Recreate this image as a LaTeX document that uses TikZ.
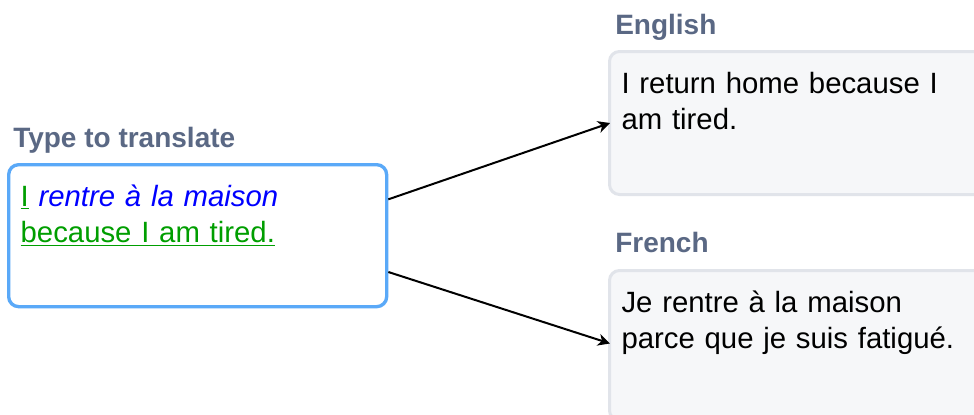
\documentclass[tikz,border=0pt]{standalone}
\usepackage{fontspec}
\setmainfont{Liberation Sans}
\usetikzlibrary{arrows.meta,positioning,calc}
\definecolor{headGray}{HTML}{5A6884}
\definecolor{srcBlue}{HTML}{5AA9F8}
\definecolor{outLine}{HTML}{E1E4EA}
\definecolor{outFill}{HTML}{F6F7F9}
\definecolor{keepGreen}{HTML}{009E00}
\definecolor{newBlue}{HTML}{0000FF}
\tikzset{
    >={Stealth[length=9pt,width=9pt,inset=2.7pt]},
    textBox/.style={
           rectangle,
           rounded corners=7.5pt,
           anchor=north west,
           text width=265.5pt,
           inner xsep=9pt,
           inner ysep=0pt,
           text height=31.5pt,
           align=left,
           font=\fontsize{22}{27}\selectfont},
    srcBox/.style={
           textBox,
           draw=srcBlue, line width=2.5pt,
           fill=white,
           text depth=75pt},
    outBox/.style={
           textBox,
           draw=outLine, line width=2.25pt,
           fill=outFill},
    heading/.style={
           inner sep=0pt,
           text=headGray,
           font=\fontsize{21}{24}\selectfont\bfseries},
    pil/.style={
           ->,
           line width=1.5pt}
}
\begin{document}
\begin{tikzpicture}[x=0.75pt, y=-0.75pt]
	\useasboundingbox (0,0) rectangle (974,414);
	\fill[white] (0,0) rectangle (974,414);
	\clip (0,0) rectangle (974,414);
	\node[srcBox] (Source) at (7,163) {\textcolor{keepGreen}{\underline{I}} \textcolor{newBlue}{\itshape rentre à la maison}\\ \textcolor{keepGreen}{\underline{because I am tired.}}};
	\node[outBox, text depth=75.75pt] (English) at (608,50) {I return home because I am tired.};
	\node[outBox, text depth=81pt, below=54.75pt of English.south west, anchor=north west] (French) {Je rentre à la maison parce que je suis fatigué.};
	\node[heading, above right=12pt and 4.5pt of Source.north west, anchor=base west] (SourceHead) {Type to translate};
	\node[heading, above right=12pt and 5.25pt of English.north west, anchor=base west] (EnglishHead) {English};
	\node[heading, above right=12.75pt and 5.25pt of French.north west, anchor=base west] (FrenchHead) {French};
	\draw [pil] ($(Source.north east)!0.25!(Source.south east)$) -- ([xshift=1.5pt]English.west);
	\draw [pil] ($(Source.north east)!0.75!(Source.south east)$) -- ([xshift=1.5pt, yshift=1.5pt]French.west);
\end{tikzpicture}
\end{document}
